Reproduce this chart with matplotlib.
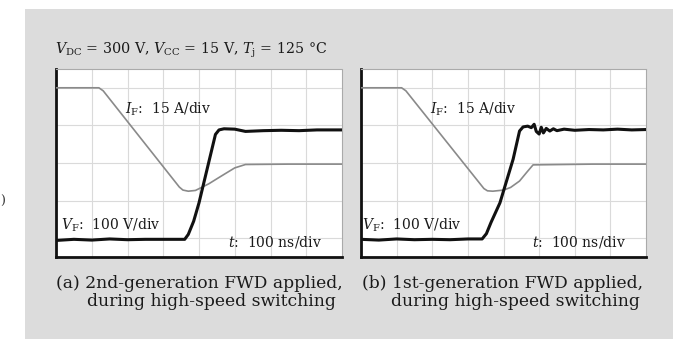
import matplotlib
matplotlib.use("Agg")
import matplotlib.pyplot as plt
from matplotlib.patches import Rectangle

# ---- data (time in divisions, amplitude in divisions) ----
# panel (a): 2nd-generation FWD
a_i_t = [0, 1.2, 1.32, 3.45, 3.55, 3.7, 3.9, 4.05, 4.28, 4.5, 4.74, 5.0, 5.3, 6.5, 8]
a_i_v = [4.5, 4.5, 4.42, 1.86, 1.78, 1.75, 1.77, 1.84, 1.95, 2.08, 2.22, 2.37, 2.46, 2.47, 2.47]
a_v_t = [0, 0.5, 1.0, 1.5, 2.0, 2.5, 3.0, 3.6, 3.7, 3.85, 4.0, 4.46, 4.56, 4.7, 5.0, 5.3, 5.8, 6.3, 6.8, 7.3, 8]
a_v_v = [0.44, 0.47, 0.45, 0.48, 0.46, 0.47, 0.47, 0.47, 0.6, 0.95, 1.44, 3.26, 3.38, 3.41, 3.4, 3.34, 3.36, 3.37, 3.36, 3.38, 3.38]

# panel (b): 1st-generation FWD
b_i_t = [0, 1.14, 1.26, 3.45, 3.55, 3.7, 4.0, 4.2, 4.45, 4.65, 4.83, 6.5, 8]
b_i_v = [4.5, 4.5, 4.42, 1.82, 1.76, 1.75, 1.78, 1.85, 2.02, 2.25, 2.45, 2.47, 2.47]
b_v_t = [0, 0.5, 1.0, 1.5, 2.0, 2.5, 3.0, 3.4, 3.52, 3.65, 3.9, 4.27, 4.45, 4.55, 4.68, 4.78, 4.86, 4.92, 5.0, 5.06,
         5.12, 5.2, 5.3, 5.4, 5.5, 5.7, 6.0, 6.4, 6.8, 7.2, 7.6, 8]
b_v_v = [0.47, 0.45, 0.48, 0.46, 0.47, 0.46, 0.48, 0.48, 0.62, 0.92, 1.44, 2.6, 3.35, 3.46, 3.48, 3.44, 3.53, 3.34,
         3.27, 3.45, 3.3, 3.42, 3.35, 3.41, 3.36, 3.4, 3.37, 3.39, 3.38, 3.4, 3.38, 3.39]

title_text = r"$V_{\rm DC}$ = 300 V, $V_{\rm CC}$ = 15 V, $T_{\rm j}$ = 125 °C"
i_label = r"$I_{\rm F}$:  15 A/div"
v_label = r"$V_{\rm F}$:  100 V/div"
t_label = r"$t$:  100 ns/div"
cap_a = ["(a) 2nd-generation FWD applied,", "during high-speed switching"]
cap_b = ["(b) 1st-generation FWD applied,", "during high-speed switching"]

plt.rcParams["font.family"] = ["DejaVu Serif"]
plt.rcParams["mathtext.fontset"] = "dejavuserif"

W, H = 680, 339
fig = plt.figure(figsize=(W / 100, H / 100), dpi=100)
fig.patch.set_facecolor("white")
bg = Rectangle((25 / W, 0), (673 - 25) / W, 1 - 9 / H, transform=fig.transFigure,
               facecolor="#dcdcdc", edgecolor="none", zorder=-10)
fig.patches.append(bg)

fig.text(55 / W, 1 - 50 / H, title_text, fontsize=10.3, va="center", ha="left", color="#1a1a1a")
fig.text(0.5 / W, 1 - 201 / H, ")", fontsize=9, va="center", ha="left", color="#333333")


def panel(x0, x1, it, iv, vt, vv, v_lab_x, t_lab_x):
    ax = fig.add_axes([x0 / W, 1 - 257 / H, (x1 - x0) / W, (257 - 69) / H])
    ax.set_zorder(1)
    ax.set_facecolor("white")
    ax.set_xlim(0, 8)
    ax.set_ylim(0, 5)
    ax.set_xticks(range(1, 8))
    ax.set_yticks([0.5, 1.5, 2.5, 3.5, 4.5])
    ax.grid(True, color="#dadada", lw=0.8)
    ax.tick_params(length=0, labelbottom=False, labelleft=False)
    for s in ["top", "right"]:
        ax.spines[s].set_color("#aaaaaa")
        ax.spines[s].set_linewidth(0.8)
        ax.spines[s].set_linestyle((0, (1, 1)))
    for s in ["left", "bottom"]:
        ax.spines[s].set_color("#111111")
        ax.spines[s].set_linewidth(2.0)
    ax.plot(it, iv, color="#8a8a8a", lw=1.2, zorder=3)
    ax.plot(vt, vv, color="#111111", lw=2.2, zorder=4)
    ax.text(1.93, 3.93, i_label, fontsize=10, va="center", ha="left", color="#1a1a1a")
    ax.text(v_lab_x, 0.85, v_label, fontsize=10, va="center", ha="left", color="#1a1a1a")
    ax.text(t_lab_x, 0.41, t_label, fontsize=10, va="center", ha="left", color="#1a1a1a")
    return ax


panel(56, 342, a_i_t, a_i_v, a_v_t, a_v_v, 0.14, 4.8)
panel(361, 646, b_i_t, b_i_v, b_v_t, b_v_v, 0.04, 4.8)

for (x1, x2, cap) in [(56, 87, cap_a), (362, 391, cap_b)]:
    fig.text(x1 / W, 1 - 283 / H, cap[0], fontsize=12.3, va="center", ha="left", color="#1a1a1a")
    fig.text(x2 / W, 1 - 302 / H, cap[1], fontsize=12.3, va="center", ha="left", color="#1a1a1a")

fig.savefig("out.png", dpi=100, facecolor="white")
